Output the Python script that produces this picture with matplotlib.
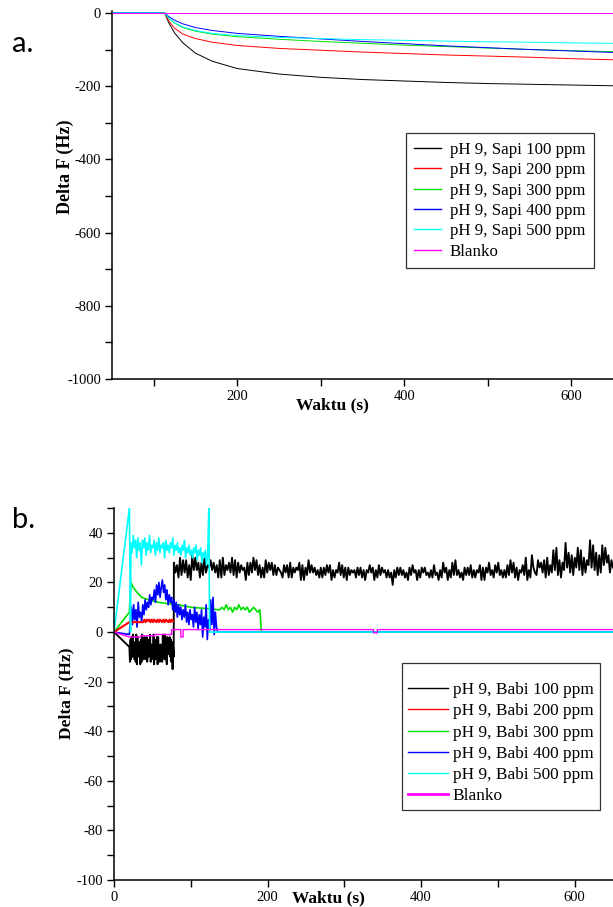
import numpy as np
import matplotlib.pyplot as plt
from matplotlib.ticker import MultipleLocator

plt.rcParams['font.family'] = ['Liberation Serif', 'DejaVu Serif']
plt.rcParams['axes.unicode_minus'] = False

# ---------------- panel a data (Sapi) ----------------
t_a = [50, 113, 118, 125, 135, 150, 170, 200, 250, 300, 350, 400, 450, 500, 550, 600, 650]
sapi_100 = [0, 0, -27, -55, -82, -110, -132, -152, -167, -176, -182, -186, -190, -193, -195, -197, -199]
sapi_200 = [0, 0, -22, -42, -58, -70, -80, -89, -97, -102, -107, -111, -115, -118, -121, -125, -128]
sapi_300 = [0, 0, -15, -28, -40, -50, -58, -65, -72, -78, -83, -88, -92, -96, -100, -103, -106]
sapi_400 = [0, 0, -10, -20, -30, -40, -48, -56, -64, -71, -78, -84, -90, -95, -100, -104, -108]
sapi_500 = [0, 0, -14, -27, -38, -48, -56, -62, -67, -70, -73, -75, -77, -79, -80, -82, -83]
blanko_a = [0] * len(t_a)

labels_a = ['pH 9, Sapi 100 ppm', 'pH 9, Sapi 200 ppm', 'pH 9, Sapi 300 ppm',
            'pH 9, Sapi 400 ppm', 'pH 9, Sapi 500 ppm', 'Blanko']

# ---------------- panel b data (Babi) ----------------
# black (100 ppm): negative band 20-78 s, then jump up to a long noisy band
babi100_lo = [-12, -3, -10, -1, -11, -5, -13, -2, -9, -4, -12, -1, -8, -6, -11, -2, -10, -3, -12, -5,
              -9, -1, -11, -4, -13, -2, -8, -6, -12, -3, -10, -1, -11, -5, -9, -2, -12, -4, -10]
babi100_lo2 = [-6, -11, -2, -9, -4, -12, -1, -10, -5, -13, -3, -8, -11, -2, -7, -12, -4, -9, -1, -11,
               -6, -13, -3, -10, -2, -8, -12, -5, -9, -1, -11, -4, -13, -2, -7, -10, -3, -15, -6]
babi100_hi = [28, 22, 30, 24, 29, 21, 31, 25, 28, 23, 30, 26,
              29, 24, 27, 22, 30, 25, 28, 23, 29, 24, 27, 21,
              28, 24, 30, 23, 27, 22, 29, 25, 28, 23, 26, 24,
              27, 22, 28, 24, 26, 21, 27, 23, 29, 24, 26, 22,
              26, 23, 27, 21, 25, 24, 28, 22, 26, 23, 25, 22,
              26, 22, 25, 24, 27, 21, 25, 23, 26, 22, 25, 19,
              25, 23, 26, 22, 24, 23, 27, 21, 25, 24, 26, 22,
              25, 23, 24, 22, 28, 21, 25, 23, 29, 22, 24, 23,
              26, 22, 25, 24, 27, 21, 26, 23, 25, 24, 28, 22,
              25, 23, 29, 22, 26, 24, 27, 21, 25, 31, 23, 26,
              28, 22, 30, 24, 33, 23, 29, 25, 36, 24, 31, 26,
              34, 23, 30, 27, 37, 25, 32, 24, 35, 28, 31, 26]
babi100_hi2 = [24, 27, 23, 29, 22, 27, 25, 30, 22, 28, 24, 27,
               25, 28, 22, 29, 23, 27, 24, 30, 22, 28, 25, 26,
               23, 28, 25, 29, 22, 26, 24, 28, 23, 27, 25, 22,
               24, 27, 22, 26, 25, 28, 21, 26, 24, 27, 23, 25,
               22, 26, 24, 27, 22, 25, 23, 27, 21, 26, 24, 25,
               23, 26, 21, 25, 24, 26, 22, 27, 24, 25, 22, 24,
               22, 26, 23, 25, 21, 26, 24, 25, 22, 26, 23, 24,
               22, 27, 21, 25, 24, 26, 22, 28, 23, 25, 21, 26,
               23, 27, 22, 25, 21, 26, 24, 28, 22, 27, 23, 25,
               22, 27, 24, 28, 21, 25, 23, 30, 22, 26, 24, 29,
               24, 29, 23, 27, 25, 34, 22, 28, 26, 32, 23, 30,
               25, 33, 24, 29, 26, 35, 23, 31, 27, 34, 24, 29]

# red (200 ppm)
babi200 = [4, 5, 4, 5, 4.5, 5, 4, 5, 4, 5, 4.5, 4, 5, 4, 5, 4.5, 4, 5, 4, 5, 4.5, 4, 5, 4, 5, 4.5]

# green (300 ppm)
babi300_t = [0, 20, 22, 25, 30, 36, 45, 58, 70, 84, 100, 120, 136]
babi300_v = [0, 8, 20, 18, 16, 14, 13, 12, 11.5, 11, 10, 9.5, 9]
babi300_tail = [9, 10, 9, 11, 9, 10, 8, 10, 9, 11, 9, 10, 9, 10, 8, 9, 10, 9, 8, 9]

# blue (400 ppm)
babi400 = [4, 10, 3, 11, 5, 9, 2, 12, 6, 8, 4, 11, 7, 13, 9, 12, 10, 15, 11, 14,
           13, 17, 12, 19, 15, 20, 14, 18, 21, 16, 19, 13, 17, 11, 15, 12, 14, 9, 13, 8,
           12, 6, 11, 7, 10, 5, 9, 6, 11, 4, 8, 3, 9, 5, 7, 2, 10, 4, 8, 1,
           7, 3, 9, -2, 6, 2, 11, -3, 5, 1, 13, 3, 14, -1, 8, 2, 0]

# cyan (500 ppm)
babi500 = [36, 32, 39, 34, 37, 30, 38, 33, 36, 27, 37, 34, 38, 31, 36, 33, 39, 32, 35, 34,
           37, 31, 36, 33, 38, 32, 35, 34, 36, 30, 37, 33, 35, 32, 36, 34, 38, 31, 35, 33,
           36, 32, 34, 31, 35, 33, 37, 30, 34, 32, 35, 31, 33, 30, 34, 32, 35, 29, 33, 31,
           34, 28, 32, 30, 33, 27, 31]

# magenta (Blanko)
blanko_b_t = [0, 20, 35, 35, 53, 53, 75, 75, 87, 87, 90, 90, 338, 338, 343, 343, 650]
blanko_b_v = [0, -2, -2, -1.5, -1.5, -1, -1, 1, 1, -2, -2, 1, 1, -0.3, -0.3, 1, 1]

labels_b = ['pH 9, Babi 100 ppm', 'pH 9, Babi 200 ppm', 'pH 9, Babi 300 ppm',
            'pH 9, Babi 400 ppm', 'pH 9, Babi 500 ppm', 'Blanko']

colors = ['black', '#ff0000', '#00e000', '#0000ff', '#00ffff', '#ff00ff']

fig = plt.figure(figsize=(6.13, 9.07), dpi=100)


def style_axes(ax):
    for s in ['top', 'right']:
        ax.spines[s].set_visible(False)
    for s in ['left', 'bottom']:
        ax.spines[s].set_linewidth(1.1)
    ax.tick_params(which='both', direction='out', width=1.0, labelsize=10.5)
    ax.tick_params(which='major', length=5, pad=3)
    ax.tick_params(which='minor', length=5)


def band(a, b):
    # each pair of readings: upper one first, lower one second -> dense noisy band
    a = np.asarray(a, float)
    b = np.asarray(b, float)
    return np.column_stack([np.maximum(a, b), np.minimum(a, b)]).ravel()


# ---- panel a ----
ax1 = fig.add_axes([0.1827, 0.5821, 0.8173, 0.4057])
series_a = [sapi_100, sapi_200, sapi_300, sapi_400, sapi_500, blanko_a]
for vals, c, lab in zip(series_a, colors, labels_a):
    ax1.plot(t_a, vals, color=c, lw=0.7, label=lab)
ax1.set_xlim(50, 650)
ax1.set_ylim(-1000, 5)
ax1.xaxis.set_major_locator(MultipleLocator(200))
ax1.xaxis.set_minor_locator(MultipleLocator(100))
ax1.yaxis.set_major_locator(MultipleLocator(200))
ax1.yaxis.set_minor_locator(MultipleLocator(100))
style_axes(ax1)
ax1.set_xlabel('Waktu (s)', fontsize=12.5, fontweight='bold', va='center')
ax1.xaxis.set_label_coords(0.44, -0.0707)
ax1.set_ylabel('Delta F (Hz)', fontsize=13, fontweight='bold')
ax1.yaxis.set_label_coords(-0.076, 0.576)
leg1 = ax1.legend(loc='upper left', bbox_to_anchor=(0.662, 0.853), bbox_transform=fig.transFigure,
                  fontsize=12.2, frameon=True, fancybox=False, edgecolor='black',
                  handlelength=1.6, handletextpad=0.5, labelspacing=0.26,
                  borderpad=0.5, borderaxespad=0)
leg1.get_frame().set_linewidth(0.9)
for line in leg1.get_lines():
    line.set_linewidth(1.0)

# ---- panel b ----
ax2 = fig.add_axes([0.186, 0.0298, 0.814, 0.410])
t_lo = np.linspace(20, 77, len(babi100_lo))
t_hi = np.linspace(78, 648, len(babi100_hi))
black_t = np.concatenate([[0], np.column_stack([t_lo, t_lo + 0.75]).ravel(),
                          np.column_stack([t_hi, t_hi + 2]).ravel()])
black_v = np.concatenate([[0], band(babi100_lo, babi100_lo2), band(babi100_hi, babi100_hi2)])
h_black, = ax2.plot(black_t, black_v, color=colors[0], lw=1.35)

green_t = np.concatenate([babi300_t, np.linspace(138, 190, len(babi300_tail)), [192, 650]])
green_v = np.concatenate([babi300_v, babi300_tail, [0, 0]])
h_green, = ax2.plot(green_t, green_v, color=colors[2], lw=1.2)

blue_t = np.concatenate([[0, 20], np.linspace(21, 135, len(babi400)), [650]])
blue_v = np.concatenate([[0, -1], babi400, [0]])
h_blue, = ax2.plot(blue_t, blue_v, color=colors[3], lw=1.2)

red_t = np.concatenate([[0, 20], np.linspace(38, 77, len(babi200))])
red_v = np.concatenate([[0, 4], babi200])
h_red, = ax2.plot(red_t, red_v, color=colors[1], lw=1.5)

cyan_t = np.concatenate([[0, 20, 21.5], np.linspace(22, 122, len(babi500)), [123.5, 124.5, 650]])
cyan_v = np.concatenate([[0, 50, 0], babi500, [50, 0, 0]])
h_cyan, = ax2.plot(cyan_t, cyan_v, color=colors[4], lw=1.2)

h_mag, = ax2.plot(blanko_b_t, blanko_b_v, color=colors[5], lw=1.0)

ax2.set_xlim(0, 650)
ax2.set_ylim(-100, 50)
ax2.xaxis.set_major_locator(MultipleLocator(200))
ax2.xaxis.set_minor_locator(MultipleLocator(100))
ax2.yaxis.set_major_locator(MultipleLocator(20))
ax2.yaxis.set_minor_locator(MultipleLocator(10))
style_axes(ax2)
ax2.set_xlabel('Waktu (s)', fontsize=12.5, fontweight='bold', va='center')
ax2.xaxis.set_label_coords(0.43, -0.05)
ax2.set_ylabel('Delta F (Hz)', fontsize=12.5, fontweight='bold')
ax2.yaxis.set_label_coords(-0.08, 0.503)
handles_b = [h_black, h_red, h_green, h_blue, h_cyan, h_mag]
leg2 = ax2.legend(handles_b, labels_b, loc='upper left', bbox_to_anchor=(0.656, 0.269),
                  bbox_transform=fig.transFigure, title=' ', title_fontsize=6,
                  fontsize=12.4, frameon=True, fancybox=False, edgecolor='black',
                  handlelength=2.3, handletextpad=0.3, labelspacing=0.3,
                  borderpad=0.35, borderaxespad=0)
leg2.get_frame().set_linewidth(0.9)
for line in leg2.get_lines():
    line.set_linewidth(1.0)
leg2.get_lines()[5].set_linewidth(2.0)

fig.text(0.02, 0.943, 'a.', fontsize=21, family='Lato')
fig.text(0.02, 0.418, 'b.', fontsize=21, family='Lato')

fig.savefig('out.png', dpi=100)
